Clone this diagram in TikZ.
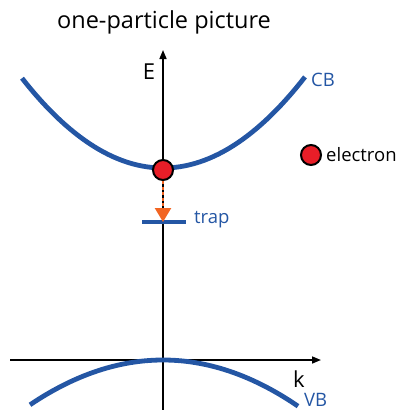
\documentclass[tikz,border=0pt]{standalone}
\usepackage{fontspec}
\setmainfont{Open Sans}
\usepackage{xcolor}
\usetikzlibrary{arrows.meta, positioning}
\definecolor{band}{RGB}{36,86,164}
\definecolor{elec}{RGB}{232,30,40}
\definecolor{drop}{RGB}{242,101,34}

\begin{document}
\begin{tikzpicture}[x=1pt, y=-1pt,
      bandline/.style={band, line width=4.8pt},
      axis/.style={-{Triangle[length=9pt, width=7pt]}, line width=1.6pt},
      lbl/.style={font=\fontsize{18.5}{20}\selectfont, inner sep=0pt},
      dot/.style={circle, draw=black, line width=2pt, fill=elec,
                  minimum size=20pt, inner sep=0pt}
    ]
      \useasboundingbox (0,0) rectangle (401,410);
      \node[font=\fontsize{23.5}{26}\selectfont] (title) at (164,22) {one-particle picture};
      % axes
      \coordinate (kl) at (10,360);
      \coordinate (kr) at (321,360);
      \coordinate (eb) at (163,412);
      \coordinate (et) at (163,50);
      \draw[axis] (kl) -- (kr);
      \draw[axis] (eb) -- (et);
      \node[lbl, font=\fontsize{22}{24}\selectfont] (E) at (149,72) {E};
      \node[lbl, font=\fontsize{22}{24}\selectfont] (k) at (299,379) {k};
      % bands
      \draw[bandline] plot[domain=22:305, samples=60] (\x, {168-0.00452*(\x-163)*(\x-163)});
      \draw[bandline] plot[domain=30:298, samples=60] (\x, {360+0.00254*(\x-163)*(\x-163)});
      \node[lbl, band, anchor=west] (cb) at (311,80) {CB};
      \node[lbl, band, anchor=west] (vb) at (304,400) {VB};
      % trap level
      \coordinate (trap) at (163,222);
      \draw[bandline, line width=4.5pt] (142,222) -- (186,222);
      \node[lbl, band, anchor=west] (traplbl) at (194,220) {trap};
      % electron
      \node[dot] (e) at (163,170) {};
      \draw[drop, line width=2.4pt, dash pattern=on 3pt off 2.5pt,
            -{Triangle[length=14pt, width=16pt]}] (e) -- (trap);
      \node[dot] (key) at (311,155) {};
      \node[lbl, anchor=west, right=4pt of key] (keylbl) {electron};
    \end{tikzpicture}
\end{document}
